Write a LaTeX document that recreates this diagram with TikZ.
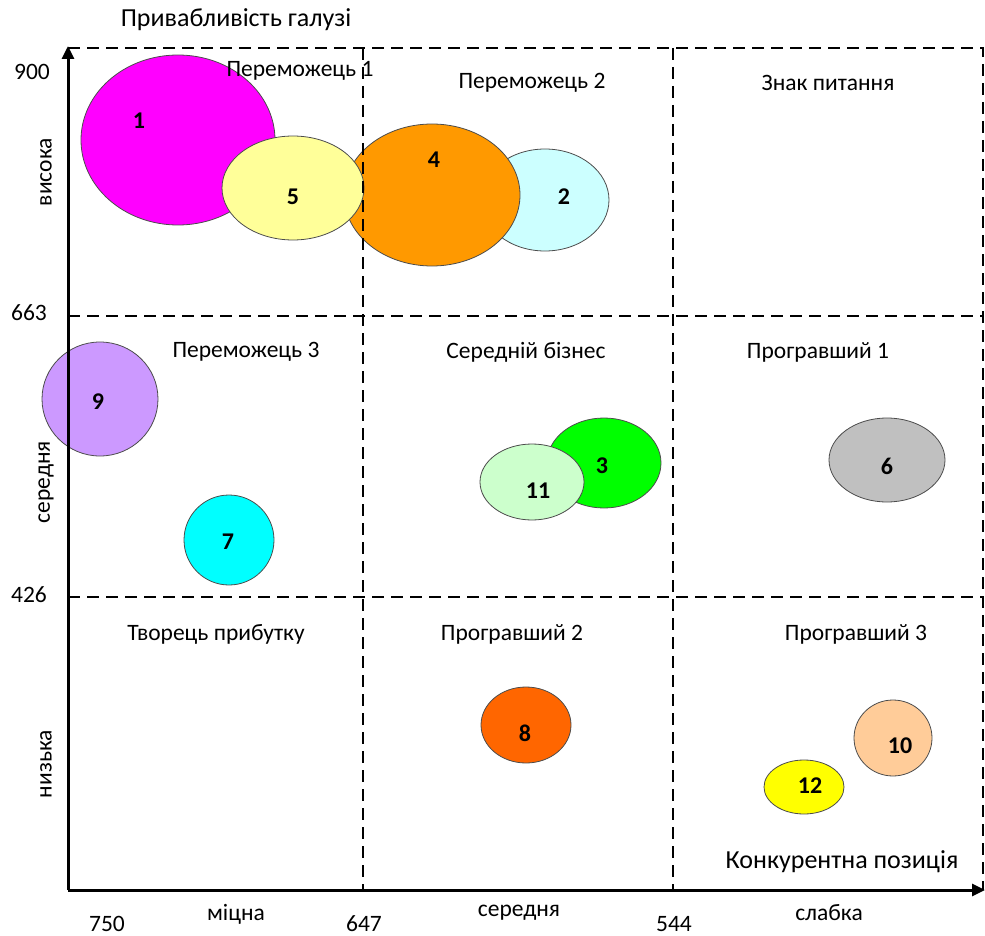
\documentclass[tikz,border=0pt]{standalone}
\usepackage{fontspec}
\setmainfont{Carlito}
\usetikzlibrary{arrows.meta}
\definecolor{cMag}{HTML}{FF00FF}
\definecolor{cLY}{HTML}{FFFF99}
\definecolor{cOr}{HTML}{FF9900}
\definecolor{cLC}{HTML}{CCFFFF}
\definecolor{cPu}{HTML}{CC99FF}
\definecolor{cCy}{HTML}{00FFFF}
\definecolor{cGr}{HTML}{00FF00}
\definecolor{cLG}{HTML}{CCFFCC}
\definecolor{cGy}{HTML}{C0C0C0}
\definecolor{cRO}{HTML}{FF6600}
\definecolor{cPe}{HTML}{FFCC99}
\definecolor{cYe}{HTML}{FFFF00}
\tikzset{
  bub/.style={draw=black!70, line width=0.8pt},
  num/.style={font=\fontsize{24}{28}\selectfont\bfseries, inner sep=0pt},
  lbl/.style={font=\fontsize{23.5}{28}\selectfont, inner sep=0pt},
  big/.style={font=\fontsize{26}{30}\selectfont, inner sep=0pt},
  grid/.style={dash pattern=on 12pt off 7pt, line width=2.2pt},
  axis/.style={line width=3pt, -{Triangle[length=13pt,width=12pt]}}
}
\begin{document}
\begin{tikzpicture}[x=1pt,y=-1pt]
\useasboundingbox (0,0) rectangle (985,936);
% bubbles
\fill[cMag, bub] (178,140) ellipse [x radius=97, y radius=85];
\fill[cLC, bub] (545,200) ellipse [x radius=64, y radius=51];
\fill[cOr, bub] (432,195) ellipse [x radius=88, y radius=71];
\fill[cLY, bub] (293,188) ellipse [x radius=71, y radius=52];
\fill[cPu, bub] (100,399) ellipse [x radius=58, y radius=57];
\fill[cCy, bub] (229,540) ellipse [x radius=45, y radius=45];
\fill[cGr, bub] (604,463) ellipse [x radius=57, y radius=45];
\fill[cLG, bub] (532,482) ellipse [x radius=52, y radius=38];
\fill[cGy, bub] (887,460) ellipse [x radius=58, y radius=42];
\fill[cRO, bub] (526,725) ellipse [x radius=45, y radius=38];
\fill[cPe, bub] (893,738) ellipse [x radius=39, y radius=38];
\fill[cYe, bub] (804,787) ellipse [x radius=40, y radius=27];
\node[num] (n1) at (139,121) {1};
\node[num] (n5) at (293,197) {5};
\node[num] (n4) at (434,160) {4};
\node[num] (n2) at (564,197) {2};
\node[num] (n9) at (98,402) {9};
\node[num] (n7) at (228,542) {7};
\node[num] (n3) at (602,466) {3};
\node[num] (n11) at (538,491) {11};
\node[num] (n6) at (887,466) {6};
\node[num] (n8) at (525,733) {8};
\node[num] (n10) at (900,746) {10};
\node[num] (n12) at (810,786) {12};
% grid
\coordinate (tl) at (68,48);
\coordinate (tr) at (983,48);
\coordinate (br) at (983,890);
\draw[grid] (tl) -- (tr) -- (br);
\draw[grid] (363,48) -- (363,890);
\draw[grid] (673,48) -- (673,890);
\draw[grid] (68,316) -- (983,316);
\draw[grid] (68,597) -- (983,597);
% axes
\coordinate (o) at (68,890);
\coordinate (ytop) at (68,46);
\coordinate (xend) at (985,890);
\draw[axis] (o) -- (ytop);
\draw[axis] (o) -- (xend);
% axis labels
\node[big] (t) at (236,20) {Привабливість галузі};
\node[big] (kp) at (842,862) {Конкурентна позиція};
\node[lbl] (y900) at (32,72) {900};
\node[lbl] (y663) at (29,313) {663};
\node[lbl] (y426) at (29,595) {426};
\node[lbl] (x750) at (107,924) {750};
\node[lbl] (x647) at (364,924) {647};
\node[lbl] (x544) at (674,924) {544};
\node[lbl] (xs) at (236,914) {міцна};
\node[lbl] (xm) at (519,913) {середня};
\node[lbl] (xw) at (829,913) {слабка};
\node[lbl, rotate=90] (yh) at (46,172) {висока};
\node[lbl, rotate=90] (ym) at (46,482) {середня};
\node[lbl, rotate=90] (yl) at (46,764) {низька};
% quadrant labels
\node[lbl] (q1) at (300,71) {Переможець 1};
\node[lbl] (q2) at (532,83) {Переможець 2};
\node[lbl] (q3) at (828,83) {Знак питання};
\node[lbl] (q4) at (246,352) {Переможець 3};
\node[lbl] (q5) at (526,352) {Середній бізнес};
\node[lbl] (q6) at (818,352) {Програвший 1};
\node[lbl] (q7) at (216,634) {Творець прибутку};
\node[lbl] (q8) at (512,634) {Програвший 2};
\node[lbl] (q9) at (856,634) {Програвший 3};
\end{tikzpicture}
\end{document}
